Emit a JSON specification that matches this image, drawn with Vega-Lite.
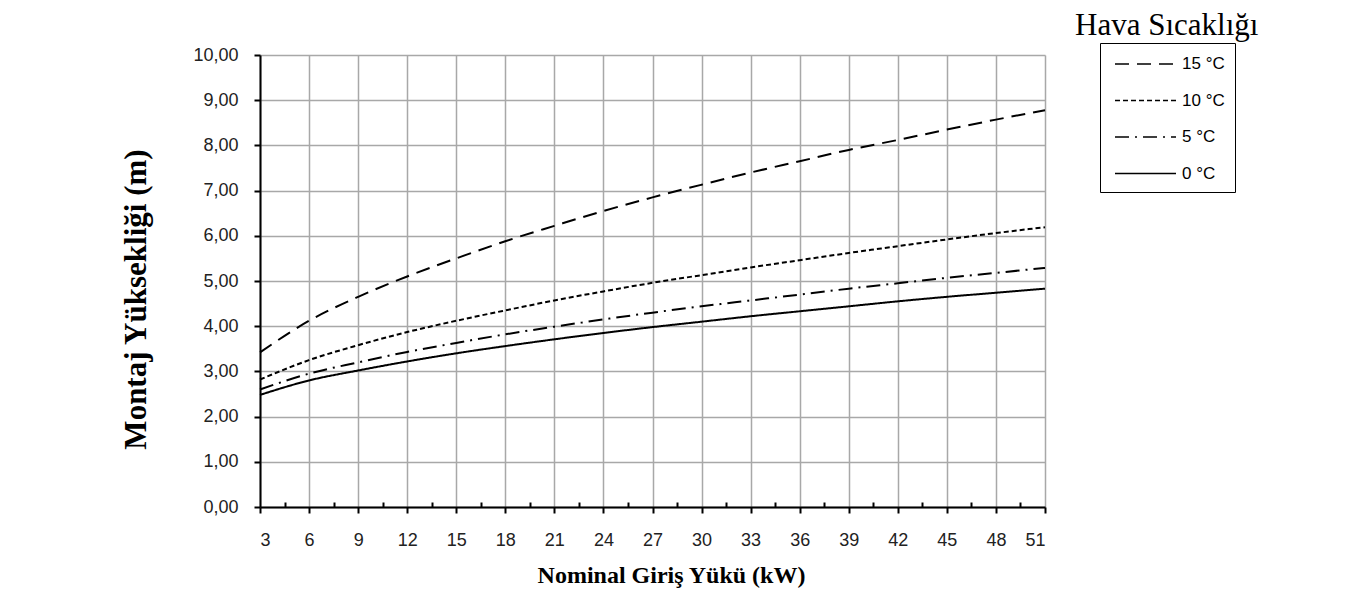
{
  "$schema": "https://vega.github.io/schema/vega-lite/v6.json",
  "width": 785,
  "height": 452,
  "autosize": "none",
  "padding": {"left": 260, "top": 55, "right": 326, "bottom": 82},
  "background": "white",
  "title": {
    "text": "Hava Sıcaklığı",
    "anchor": "start",
    "frame": "group",
    "dx": 815,
    "offset": 1,
    "font": "Liberation Serif",
    "fontSize": 31,
    "fontWeight": "normal",
    "color": "black"
  },
  "data": {
    "values": [
      {"x": 3, "temp": "15 °C", "y": 3.42}, {"x": 6, "temp": "15 °C", "y": 4.12}, {"x": 9, "temp": "15 °C", "y": 4.65}, {"x": 12, "temp": "15 °C", "y": 5.1}, {"x": 15, "temp": "15 °C", "y": 5.5}, {"x": 18, "temp": "15 °C", "y": 5.88}, {"x": 21, "temp": "15 °C", "y": 6.22}, {"x": 24, "temp": "15 °C", "y": 6.55}, {"x": 27, "temp": "15 °C", "y": 6.85}, {"x": 30, "temp": "15 °C", "y": 7.13}, {"x": 33, "temp": "15 °C", "y": 7.4}, {"x": 36, "temp": "15 °C", "y": 7.65}, {"x": 39, "temp": "15 °C", "y": 7.9}, {"x": 42, "temp": "15 °C", "y": 8.12}, {"x": 45, "temp": "15 °C", "y": 8.35}, {"x": 48, "temp": "15 °C", "y": 8.57}, {"x": 51, "temp": "15 °C", "y": 8.78},
      {"x": 3, "temp": "10 °C", "y": 2.82}, {"x": 6, "temp": "10 °C", "y": 3.25}, {"x": 9, "temp": "10 °C", "y": 3.58}, {"x": 12, "temp": "10 °C", "y": 3.87}, {"x": 15, "temp": "10 °C", "y": 4.12}, {"x": 18, "temp": "10 °C", "y": 4.35}, {"x": 21, "temp": "10 °C", "y": 4.57}, {"x": 24, "temp": "10 °C", "y": 4.77}, {"x": 27, "temp": "10 °C", "y": 4.96}, {"x": 30, "temp": "10 °C", "y": 5.13}, {"x": 33, "temp": "10 °C", "y": 5.3}, {"x": 36, "temp": "10 °C", "y": 5.46}, {"x": 39, "temp": "10 °C", "y": 5.62}, {"x": 42, "temp": "10 °C", "y": 5.77}, {"x": 45, "temp": "10 °C", "y": 5.92}, {"x": 48, "temp": "10 °C", "y": 6.06}, {"x": 51, "temp": "10 °C", "y": 6.19},
      {"x": 3, "temp": "5 °C", "y": 2.6}, {"x": 6, "temp": "5 °C", "y": 2.95}, {"x": 9, "temp": "5 °C", "y": 3.2}, {"x": 12, "temp": "5 °C", "y": 3.43}, {"x": 15, "temp": "5 °C", "y": 3.63}, {"x": 18, "temp": "5 °C", "y": 3.82}, {"x": 21, "temp": "5 °C", "y": 3.99}, {"x": 24, "temp": "5 °C", "y": 4.15}, {"x": 27, "temp": "5 °C", "y": 4.3}, {"x": 30, "temp": "5 °C", "y": 4.44}, {"x": 33, "temp": "5 °C", "y": 4.57}, {"x": 36, "temp": "5 °C", "y": 4.7}, {"x": 39, "temp": "5 °C", "y": 4.83}, {"x": 42, "temp": "5 °C", "y": 4.95}, {"x": 45, "temp": "5 °C", "y": 5.07}, {"x": 48, "temp": "5 °C", "y": 5.18}, {"x": 51, "temp": "5 °C", "y": 5.29},
      {"x": 3, "temp": "0 °C", "y": 2.48}, {"x": 6, "temp": "0 °C", "y": 2.8}, {"x": 9, "temp": "0 °C", "y": 3.02}, {"x": 12, "temp": "0 °C", "y": 3.22}, {"x": 15, "temp": "0 °C", "y": 3.4}, {"x": 18, "temp": "0 °C", "y": 3.56}, {"x": 21, "temp": "0 °C", "y": 3.71}, {"x": 24, "temp": "0 °C", "y": 3.85}, {"x": 27, "temp": "0 °C", "y": 3.98}, {"x": 30, "temp": "0 °C", "y": 4.1}, {"x": 33, "temp": "0 °C", "y": 4.22}, {"x": 36, "temp": "0 °C", "y": 4.33}, {"x": 39, "temp": "0 °C", "y": 4.44}, {"x": 42, "temp": "0 °C", "y": 4.55}, {"x": 45, "temp": "0 °C", "y": 4.65}, {"x": 48, "temp": "0 °C", "y": 4.74}, {"x": 51, "temp": "0 °C", "y": 4.83}
    ]
  },
  "mark": {"type": "line", "interpolate": "monotone", "strokeWidth": 2, "color": "black"},
  "encoding": {
    "x": {
      "field": "x",
      "type": "quantitative",
      "scale": {"domain": [3, 51], "nice": false, "zero": false},
      "axis": {
        "title": "Nominal Giriş Yükü (kW)",
        "values": [3, 4.5, 6, 7.5, 9, 10.5, 12, 13.5, 15, 16.5, 18, 19.5, 21, 22.5, 24, 25.5, 27, 28.5, 30, 31.5, 33, 34.5, 36, 37.5, 39, 40.5, 42, 43.5, 45, 46.5, 48, 49.5, 51],
        "labelExpr": "datum.value % 3 === 0 ? datum.value : ''",
        "tickSize": {"condition": {"test": "datum.value % 3 !== 0", "value": -5}, "value": 6},
        "gridOpacity": {"condition": {"test": "datum.value % 3 !== 0", "value": 0}, "value": 1},
        "labelFont": "Liberation Sans",
        "labelFontSize": 18,
        "labelColor": "#222",
        "labelPadding": 18,
        "titleFont": "Liberation Serif",
        "titleFontSize": 24,
        "titleFontWeight": "bold",
        "titleColor": "black",
        "titleX": 411,
        "titleY": 75,
        "titleAlign": "center",
        "titleBaseline": "alphabetic"
      }
    },
    "y": {
      "field": "y",
      "type": "quantitative",
      "scale": {"domain": [0, 10], "nice": false},
      "axis": {
        "title": "Montaj Yüksekliği (m)",
        "values": [0, 1, 2, 3, 4, 5, 6, 7, 8, 9, 10],
        "labelExpr": "replace(format(datum.value, '.2f'), '.', ',')",
        "tickSize": 6,
        "labelFont": "Liberation Sans",
        "labelFontSize": 18,
        "labelColor": "#222",
        "labelPadding": 16,
        "titleFont": "Liberation Serif",
        "titleFontSize": 31,
        "titleFontWeight": "bold",
        "titleColor": "black",
        "titleX": -115,
        "titleY": 244,
        "titleAlign": "center",
        "titleBaseline": "alphabetic"
      }
    },
    "strokeDash": {
      "field": "temp",
      "type": "nominal",
      "scale": {"domain": ["15 °C", "10 °C", "5 °C", "0 °C"], "range": [[14, 8], [5, 3], [14, 6, 2, 6], [1, 0]]},
      "legend": {
        "orient": "none",
        "legendX": 840,
        "legendY": -12,
        "title": null,
        "symbolType": "M-0.6,0H5.5",
        "symbolSize": 400,
        "symbolStrokeColor": "black",
        "symbolStrokeWidth": 1.5,
        "labelFont": "Liberation Sans",
        "labelFontSize": 17,
        "labelColor": "black",
        "labelOffset": 50,
        "strokeColor": "black",
        "fillColor": "white",
        "padding": 10,
        "rowPadding": 17.5
      }
    }
  },
  "config": {
    "axis": {
      "domainColor": "black",
      "domainWidth": 2,
      "tickColor": "black",
      "tickWidth": 2,
      "gridColor": "#a8a8a8",
      "gridWidth": 1.5
    },
    "view": {"stroke": null}
  }
}
